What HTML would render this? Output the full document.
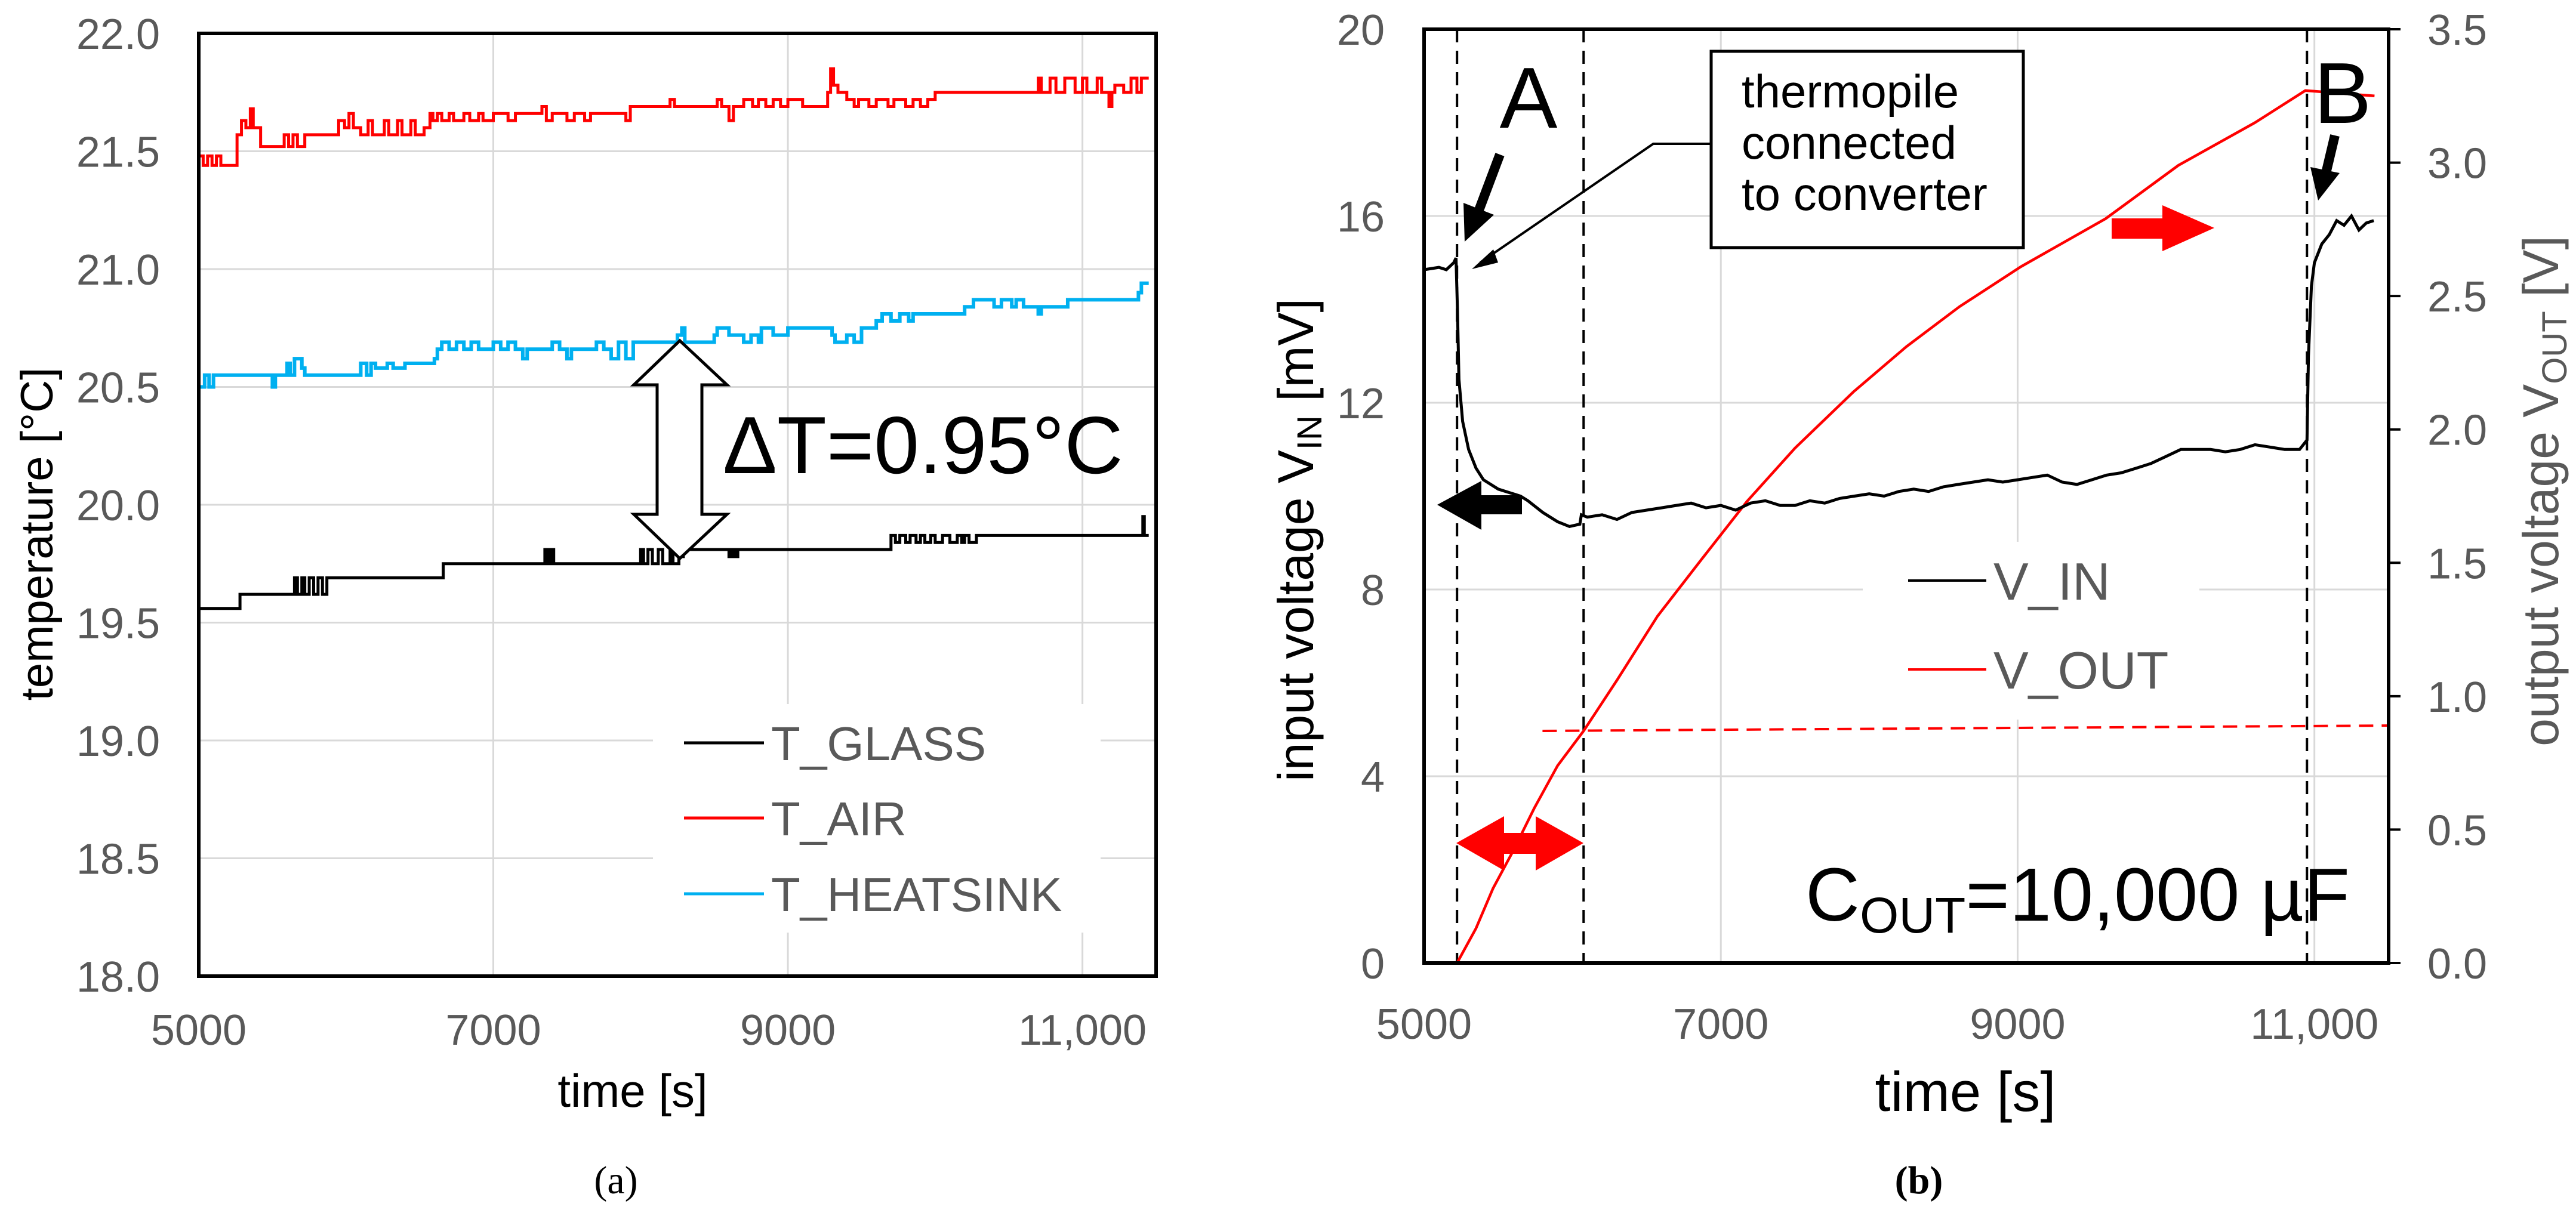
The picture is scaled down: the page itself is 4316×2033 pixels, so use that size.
<!DOCTYPE html>
<html><head><meta charset="utf-8"><style>
html,body{margin:0;padding:0;background:#fff;}
svg{display:block;font-family:"Liberation Sans",sans-serif;}
</style></head><body>
<svg id="fig" width="4316" height="2033" viewBox="0 0 4316 2033" xmlns="http://www.w3.org/2000/svg">
<g id="pa"></g>
<g id="pb"></g>
</svg>
<script>
// ---------- Panel (a) data ----------
const aXTicks = [5000, 7000, 9000, 11000];
const aXTickLabels = ["5000", "7000", "9000", "11,000"];
const aYTicks = [18.0, 18.5, 19.0, 19.5, 20.0, 20.5, 21.0, 21.5, 22.0];
const aYTickLabels = ["18.0", "18.5", "19.0", "19.5", "20.0", "20.5", "21.0", "21.5", "22.0"];
const airT = [5000,5030,5060,5090,5120,5150,5260,5290,5320,5350,5370,5420,5580,5610,5640,5670,5720,5950,5990,6020,6050,6100,6150,6180,6260,6290,6350,6380,6440,6470,6530,6570,6590,6620,6650,6700,6730,6800,6840,6900,6930,7000,7100,7150,7300,7330,7360,7400,7500,7550,7620,7660,7900,7930,8200,8230,8520,8550,8600,8630,8700,8760,8800,8850,8900,8950,9000,9100,9270,9290,9310,9340,9400,9450,9480,9550,9600,9680,9720,9800,9850,9900,9950,10000,10700,10720,10780,10820,10880,10950,11000,11030,11100,11130,11180,11200,11220,11280,11330,11370,11400,11450];
const airV = [21.48,21.44,21.48,21.44,21.48,21.44,21.57,21.63,21.6,21.68,21.6,21.52,21.57,21.52,21.57,21.52,21.57,21.63,21.6,21.66,21.6,21.57,21.63,21.57,21.63,21.57,21.63,21.57,21.63,21.57,21.6,21.66,21.63,21.66,21.63,21.66,21.63,21.66,21.63,21.66,21.63,21.66,21.63,21.66,21.66,21.69,21.63,21.66,21.63,21.66,21.63,21.66,21.63,21.69,21.72,21.69,21.72,21.69,21.63,21.69,21.72,21.69,21.72,21.69,21.72,21.69,21.72,21.69,21.75,21.85,21.78,21.75,21.72,21.69,21.72,21.69,21.72,21.69,21.72,21.69,21.72,21.69,21.72,21.75,21.81,21.75,21.81,21.75,21.81,21.75,21.81,21.75,21.81,21.75,21.69,21.75,21.78,21.75,21.81,21.75,21.81,21.81];
const hsT = [5000,5040,5070,5100,5500,5520,5600,5620,5650,5700,5720,6100,6140,6170,6200,6280,6320,6400,6600,6620,6650,6700,6750,6800,6850,6900,7000,7050,7100,7150,7200,7230,7400,7450,7500,7530,7700,7750,7800,7850,7900,7950,8250,8280,8300,8500,8520,8600,8700,8750,8800,8820,8900,9000,9200,9300,9320,9400,9450,9500,9600,9640,9700,9760,9820,9850,10200,10260,10400,10450,10520,10550,10600,10700,10720,10900,11380,11400,11450];
const hsV = [20.5,20.55,20.5,20.55,20.5,20.55,20.6,20.55,20.62,20.58,20.55,20.6,20.55,20.6,20.58,20.6,20.58,20.6,20.62,20.66,20.69,20.66,20.69,20.66,20.69,20.66,20.69,20.66,20.69,20.66,20.62,20.66,20.69,20.66,20.62,20.66,20.69,20.66,20.62,20.69,20.62,20.69,20.72,20.75,20.69,20.72,20.75,20.72,20.69,20.72,20.69,20.75,20.72,20.75,20.75,20.72,20.69,20.72,20.69,20.75,20.78,20.81,20.78,20.81,20.78,20.81,20.84,20.87,20.84,20.87,20.84,20.87,20.84,20.81,20.84,20.87,20.9,20.94,20.94];
const glT = [5000,5280,5650,5670,5700,5720,5750,5780,5810,5840,5870,6660,7350,7370,7390,7410,8000,8020,8050,8080,8120,8150,8200,8220,8260,8290,8600,8620,8640,8660,9700,9730,9760,9800,9830,9870,9900,9930,9970,10000,10050,10100,10150,10180,10200,10230,10280,11400,11410,11420,11450];
const glV = [19.56,19.62,19.69,19.62,19.69,19.62,19.69,19.62,19.69,19.62,19.69,19.75,19.81,19.75,19.81,19.75,19.81,19.75,19.81,19.75,19.81,19.75,19.81,19.75,19.78,19.81,19.78,19.81,19.78,19.81,19.87,19.84,19.87,19.84,19.87,19.84,19.87,19.84,19.87,19.84,19.87,19.84,19.87,19.84,19.87,19.84,19.87,19.87,19.95,19.87,19.87];

// ---------- Panel (b) data ----------
const bXTicks = [5000, 7000, 9000, 11000];
const bXTickLabels = ["5000", "7000", "9000", "11,000"];
const bYTicks = [0, 4, 8, 12, 16, 20];
const bYTickLabels = ["0", "4", "8", "12", "16", "20"];
const bRTicks = [0, 0.5, 1.0, 1.5, 2.0, 2.5, 3.0, 3.5];
const bRTickLabels = ["0.0", "0.5", "1.0", "1.5", "2.0", "2.5", "3.0", "3.5"];
const vinT = [5000,5100,5150,5200,5215,5225,5235,5260,5300,5350,5400,5500,5600,5650,5700,5800,5900,5980,6050,6060,6100,6200,6300,6400,6500,6600,6700,6800,6900,7000,7100,7200,7300,7400,7500,7600,7700,7800,7900,8000,8100,8200,8300,8400,8500,8600,8700,8800,8900,9000,9100,9200,9300,9400,9500,9600,9700,9800,9900,10000,10100,10200,10300,10400,10500,10600,10700,10800,10900,10950,10960,10980,11000,11050,11100,11150,11200,11250,11300,11350,11400];
const vinV = [14.85,14.9,14.85,15.0,15.1,14.0,12.5,11.6,11.0,10.6,10.35,10.15,10.05,10.0,9.9,9.65,9.45,9.35,9.4,9.6,9.55,9.6,9.5,9.65,9.7,9.75,9.8,9.85,9.75,9.8,9.7,9.85,9.9,9.8,9.8,9.9,9.85,9.95,10.0,10.05,10.0,10.1,10.15,10.1,10.2,10.25,10.3,10.35,10.3,10.35,10.4,10.45,10.3,10.25,10.35,10.45,10.5,10.6,10.7,10.85,11.0,11.0,11.0,10.95,11.0,11.1,11.05,11.0,11.0,11.2,13.0,14.5,15.0,15.4,15.6,15.9,15.8,16.0,15.7,15.85,15.9];
const voutT = [5000,5222,5350,5465,5600,5742,5900,6075,6300,6573,6866,7176,7500,7892,8250,8608,9022,9593,10084,10600,10939,11405];
const voutV = [0,0,0.13,0.28,0.42,0.58,0.74,0.87,1.06,1.30,1.51,1.73,1.93,2.14,2.31,2.46,2.61,2.79,2.99,3.15,3.27,3.25];
const thresholdV = [0.87, 0.89];
const thresholdT = [5798, 11500];
const markerT = [5222, 6075, 10950];

const NS = "http://www.w3.org/2000/svg";
function mk(parent, tag, attrs, text) {
  const e = document.createElementNS(NS, tag);
  for (const k in attrs) e.setAttribute(k, attrs[k]);
  if (text !== undefined) e.textContent = text;
  parent.appendChild(e);
  return e;
}
const xa = t => 333 + (t - 5000) / 6500 * 1604;
const ya = v => 56 + (22 - v) / 4 * 1580;
const xb = t => 2386 + (t - 5000) / 6500 * 1616;
const yb = v => 49 + (20 - v) / 20 * 1565;
const yr = v => 49 + (3.5 - v) / 3.5 * 1565;

function stepPath(T, V, fx, fy) {
  let d = "M" + fx(T[0]) + "," + fy(V[0]);
  for (let i = 1; i < T.length; i++) d += " H" + fx(T[i]) + " V" + fy(V[i]);
  return d;
}
function linePath(T, V, fx, fy) {
  return T.map((t, i) => (i ? "L" : "M") + fx(t).toFixed(1) + "," + fy(V[i]).toFixed(1)).join(" ");
}

// ================= Panel A =================
const pa = document.getElementById("pa");
aYTicks.forEach((v, i) => {
  if (i > 0 && i < aYTicks.length - 1) {
    const g = mk(pa, "line", {x1: 333, x2: 1937, y1: ya(v), y2: ya(v), stroke: "#d9d9d9", "stroke-width": 3});
    
    
  }
  const l = mk(pa, "text", {x: 268, y: ya(v) + 26, "text-anchor": "end", "font-size": 72, fill: "#595959"}, aYTickLabels[i]);
  
  
});
aXTicks.forEach((t, i) => {
  if (i > 0) {
    const g = mk(pa, "line", {x1: xa(t), x2: xa(t), y1: 56, y2: 1636, stroke: "#d9d9d9", "stroke-width": 3});
    
    
  }
  const l = mk(pa, "text", {x: xa(t), y: 1751, "text-anchor": "middle", "font-size": 72, fill: "#595959"}, aXTickLabels[i]);
  
  
});
const alb = mk(pa, "rect", {x: 1094, y: 1180, width: 750, height: 383, fill: "#fff"});


const sAir = mk(pa, "path", {d: stepPath(airT, airV, xa, ya), fill: "none", stroke: "#ff0000", "stroke-width": 5});


const sHs = mk(pa, "path", {d: stepPath(hsT, hsV, xa, ya), fill: "none", stroke: "#00b0f0", "stroke-width": 6});


const sGl = mk(pa, "path", {d: stepPath(glT, glV, xa, ya), fill: "none", stroke: "#000", "stroke-width": 5});


const fa = mk(pa, "rect", {x: 333, y: 56, width: 1604, height: 1580, fill: "none", stroke: "#000", "stroke-width": 6});


const dta = mk(pa, "polygon", {points: "1139,571 1218,645 1176,645 1176,862 1218,862 1139,936 1062,862 1101,862 1101,645 1062,645", fill: "#fff", stroke: "#000", "stroke-width": 5});


const dtt = mk(pa, "text", {x: 1211, y: 793, "font-size": 136, fill: "#000"}, "ΔT=0.95°C");


const aLeg = [["T_GLASS", "#000", 1245], ["T_AIR", "#ff0000", 1371], ["T_HEATSINK", "#00b0f0", 1498]];
aLeg.forEach(e => {
  const ln = mk(pa, "line", {x1: 1146, x2: 1280, y1: e[2], y2: e[2], stroke: e[1], "stroke-width": 5});
  
  
  const tx = mk(pa, "text", {x: 1292, y: e[2] + 29, "font-size": 80, fill: "#595959"}, e[0]);
  
  
});
const aXT = mk(pa, "text", {x: 1060, y: 1855, "text-anchor": "middle", "font-size": 78, fill: "#000"}, "time [s]");


const aYT = mk(pa, "text", {x: 0, y: 0, transform: "translate(88,895) rotate(-90)", "text-anchor": "middle", "font-size": 76, fill: "#000"}, "temperature [°C]");


const aCap = mk(pa, "text", {x: 1032, y: 2000, "text-anchor": "middle", "font-size": 66, "font-family": "Liberation Serif, serif", fill: "#000"}, "(a)");



// ================= Panel B =================
const pb = document.getElementById("pb");
bYTicks.forEach((v, i) => {
  if (i > 0 && i < bYTicks.length - 1) {
    const g = mk(pb, "line", {x1: 2386, x2: 4002, y1: yb(v), y2: yb(v), stroke: "#d9d9d9", "stroke-width": 3});
    
    
  }
  const l = mk(pb, "text", {x: 2320, y: yb(v) + 26, "text-anchor": "end", "font-size": 72, fill: "#595959"}, bYTickLabels[i]);
  
  
});
bRTicks.forEach((v, i) => {
  const tk = mk(pb, "line", {x1: 4002, x2: 4022, y1: yr(v), y2: yr(v), stroke: "#000", "stroke-width": 4});
  
  
  const l = mk(pb, "text", {x: 4067, y: yr(v) + 26, "font-size": 72, fill: "#595959"}, bRTickLabels[i]);
  
  
});
bXTicks.forEach((t, i) => {
  if (i > 0) {
    const g = mk(pb, "line", {x1: xb(t), x2: xb(t), y1: 49, y2: 1614, stroke: "#d9d9d9", "stroke-width": 3});
    
    
  }
  const l = mk(pb, "text", {x: xb(t), y: 1741, "text-anchor": "middle", "font-size": 72, fill: "#595959"}, bXTickLabels[i]);
  
  
});
const blb = mk(pb, "rect", {x: 3121, y: 908, width: 564, height: 298, fill: "#fff"});


const thr = mk(pb, "line", {x1: xb(thresholdT[0]), x2: xb(thresholdT[1]), y1: yr(thresholdV[0]), y2: yr(thresholdV[1]), stroke: "#ff0000", "stroke-width": 4, "stroke-dasharray": "24,14"});


markerT.forEach(t => {
  const m = mk(pb, "line", {x1: xb(t), x2: xb(t), y1: 49, y2: 1614, stroke: "#000", "stroke-width": 4, "stroke-dasharray": "22,14"});
  
  
});
const sVout = mk(pb, "path", {d: linePath(voutT, voutV, xb, yr), fill: "none", stroke: "#ff0000", "stroke-width": 4.5, "stroke-linejoin": "round"});


const sVin = mk(pb, "path", {d: linePath(vinT, vinV, xb, yb), fill: "none", stroke: "#000", "stroke-width": 5});


const fb = mk(pb, "rect", {x: 2386, y: 49, width: 1616, height: 1565, fill: "none", stroke: "#000", "stroke-width": 6});


const bLeg = [["V_IN", "#000", 973], ["V_OUT", "#ff0000", 1122]];
bLeg.forEach(e => {
  const ln = mk(pb, "line", {x1: 3197, x2: 3328, y1: e[2], y2: e[2], stroke: e[1], "stroke-width": 4});
  
  
  const tx = mk(pb, "text", {x: 3340, y: e[2] + 32, "font-size": 88, fill: "#595959"}, e[0]);
  
  
});
const box = mk(pb, "rect", {x: 2867, y: 86, width: 523, height: 329, fill: "#fff", stroke: "#000", "stroke-width": 5});


["thermopile", "connected", "to converter"].forEach((s, i) => {
  const tx = mk(pb, "text", {x: 2918, y: 180 + i * 86, "font-size": 78, fill: "#000"}, s);
  
  
});
const call = mk(pb, "polyline", {points: "2865,241 2770,241 2480,440", fill: "none", stroke: "#000", "stroke-width": 4});


const callH = mk(pb, "polygon", {points: "2466,451 2502,418 2510,440", fill: "#000"});


const lA = mk(pb, "text", {x: 2561, y: 214, "text-anchor": "middle", "font-size": 145, fill: "#000"}, "A");


const lB = mk(pb, "text", {x: 3925, y: 206, "text-anchor": "middle", "font-size": 145, fill: "#000"}, "B");


const arA = mk(pb, "line", {x1: 2513, y1: 259, x2: 2478, y2: 352, stroke: "#000", "stroke-width": 16});


const arAH = mk(pb, "polygon", {points: "2454,405 2452,340 2503,360", fill: "#000"});


const arB = mk(pb, "line", {x1: 3912, y1: 227, x2: 3897, y2: 290, stroke: "#000", "stroke-width": 16});


const arBH = mk(pb, "polygon", {points: "3884,336 3871,280 3920,290", fill: "#000"});


const blk = mk(pb, "polygon", {points: "2408,846 2482,806 2482,830 2550,830 2550,862 2482,862 2482,888", fill: "#000"});


const red = mk(pb, "polygon", {points: "3710,382 3623,344 3623,366 3538,366 3538,400 3623,400 3623,421", fill: "#ff0000"});


const dbl = mk(pb, "polygon", {points: "2440,1413 2520,1368 2520,1396 2573,1396 2573,1368 2653,1413 2573,1459 2573,1431 2520,1431 2520,1459", fill: "#ff0000"});


const cout = mk(pb, "text", {x: 3025, y: 1543, "font-size": 126, fill: "#000"});


mk(cout, "tspan", {}, "C");
mk(cout, "tspan", {"font-size": 84, dy: 20}, "OUT");
mk(cout, "tspan", {dy: -20}, "=10,000 µF");
const bXT = mk(pb, "text", {x: 3293, y: 1862, "text-anchor": "middle", "font-size": 94, fill: "#000"}, "time [s]");


const bYT = mk(pb, "text", {transform: "translate(2200,905) rotate(-90)", "text-anchor": "middle", "font-size": 84, fill: "#000"});


mk(bYT, "tspan", {}, "input voltage V");
mk(bYT, "tspan", {"font-size": 58, dy: 14}, "IN");
mk(bYT, "tspan", {dy: -14}, " [mV]");
const bRT = mk(pb, "text", {transform: "translate(4286,823) rotate(-90)", "text-anchor": "middle", "font-size": 84, fill: "#595959"});


mk(bRT, "tspan", {}, "output voltage V");
mk(bRT, "tspan", {"font-size": 58, dy: 14}, "OUT");
mk(bRT, "tspan", {dy: -14}, " [V]");
const bCap = mk(pb, "text", {x: 3215, y: 2000, "text-anchor": "middle", "font-size": 66, "font-family": "Liberation Serif, serif", "font-weight": "bold", fill: "#000"}, "(b)");


</script>
</body></html>
